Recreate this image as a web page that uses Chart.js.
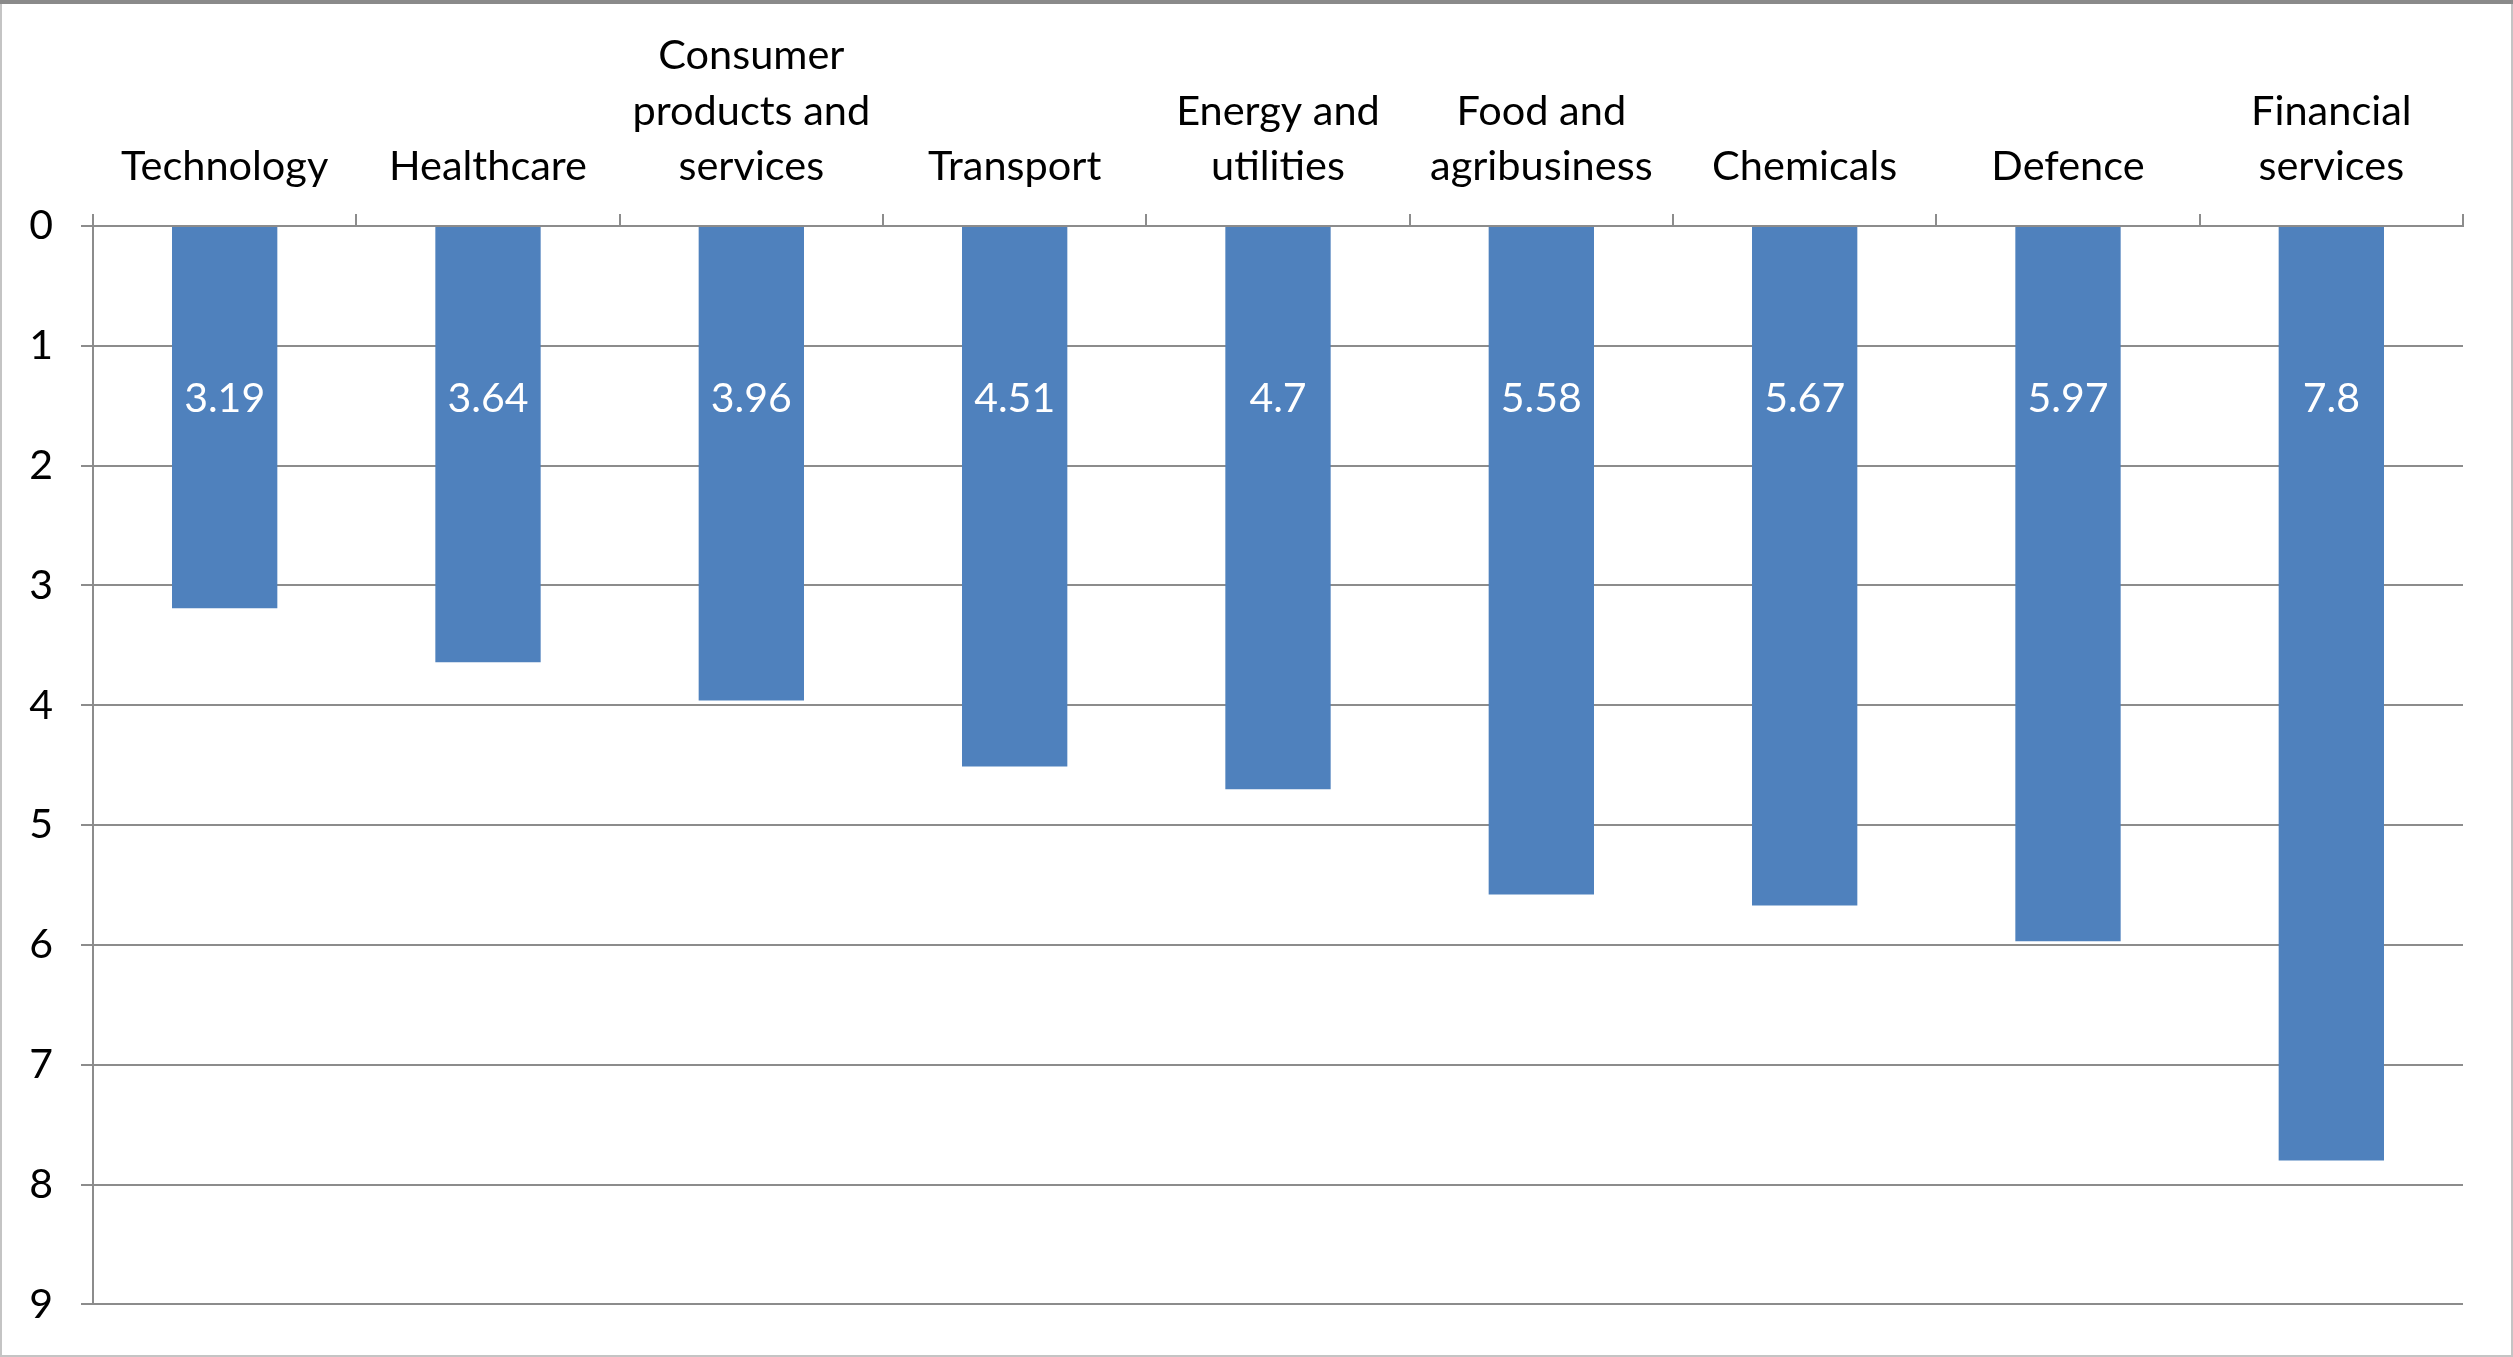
<!DOCTYPE html>
<html>
<head>
<meta charset="utf-8">
<script src="https://cdn.jsdelivr.net/npm/chart.js@4.4.1/dist/chart.umd.min.js"></script>
<style>
  html, body { margin: 0; padding: 0; background: #fff; }
  #wrap { width: 2513px; height: 1357px; position: relative; }
</style>
</head>
<body>
<div id="wrap"><canvas id="sectorChart"></canvas></div>
<script>
// Data
const categories = [
    'Technology',
    'Healthcare',
    ['Consumer', 'products and', 'services'],
    'Transport',
    ['Energy and', 'utilities'],
    ['Food and', 'agribusiness'],
    'Chemicals',
    'Defence',
    ['Financial', 'services']
];
const scores = [3.19, 3.64, 3.96, 4.51, 4.7, 5.58, 5.67, 5.97, 7.8];
const yTicks = [0, 1, 2, 3, 4, 5, 6, 7, 8, 9];

const FONT = 'Lato, "Open Sans", sans-serif';
const gridGray = '#8c8c8c';

// frame around the whole chart
const framePlugin = {
    id: 'frame',
    beforeDraw(chart) {
        const c = chart.ctx;
        c.save();
        c.fillStyle = '#fff';
        c.fillRect(0, 0, chart.width, chart.height);
        c.strokeStyle = '#c4c4c4';
        c.lineWidth = 2;
        c.strokeRect(1, 1, chart.width - 2, chart.height - 2);
        c.fillStyle = '#8a8a8a';
        c.fillRect(0, 0, chart.width, 4);
        c.restore();
    }
};

// white value labels inside the bars, near the top
const valueLabels = {
    id: 'valueLabels',
    afterDatasetsDraw(chart) {
        const c = chart.ctx;
        const y = chart.scales.y.getPixelForValue(1.44);
        c.save();
        c.fillStyle = '#ffffff';
        c.font = '41px ' + FONT;
        c.textAlign = 'center';
        c.textBaseline = 'middle';
        chart.getDatasetMeta(0).data.forEach((bar, i) => {
            c.fillText(String(scores[i]), bar.x, y);
        });
        c.restore();
    }
};

const ctx = document.getElementById('sectorChart').getContext('2d');
new Chart(ctx, {
    type: 'bar',
    data: {
        labels: categories,
        datasets: [{
            data: scores,
            backgroundColor: '#4f81bd',
            borderWidth: 0,
            categoryPercentage: 0.8,
            barPercentage: 0.5
        }]
    },
    options: {
        responsive: true,
        maintainAspectRatio: false,
        animation: false,
        layout: { padding: { top: 0, left: 0, right: 50, bottom: 40 } },
        plugins: {
            legend: { display: false },
            tooltip: { enabled: false }
        },
        scales: {
            x: {
                position: 'top',
                afterFit(scale) { scale.height = 226; },
                grid: {
                    offset: true,
                    drawOnChartArea: false,
                    color: gridGray,
                    lineWidth: 2,
                    tickLength: 12
                },
                border: { color: gridGray, width: 2 },
                ticks: {
                    color: '#000',
                    padding: 20,
                    maxRotation: 0,
                    autoSkip: false,
                    font: { family: FONT, size: 41.5, lineHeight: 1.33 }
                }
            },
            y: {
                reverse: true,
                min: 0,
                max: 9,
                afterFit(scale) { scale.width = 93; },
                afterBuildTicks(scale) { scale.ticks = yTicks.map(v => ({ value: v })); },
                grid: {
                    color: gridGray,
                    lineWidth: 2,
                    tickLength: 12
                },
                border: { color: gridGray, width: 2 },
                ticks: {
                    color: '#000',
                    padding: 28,
                    font: { family: FONT, size: 41 }
                }
            }
        }
    },
    plugins: [framePlugin, valueLabels]
});
</script>
</body>
</html>
